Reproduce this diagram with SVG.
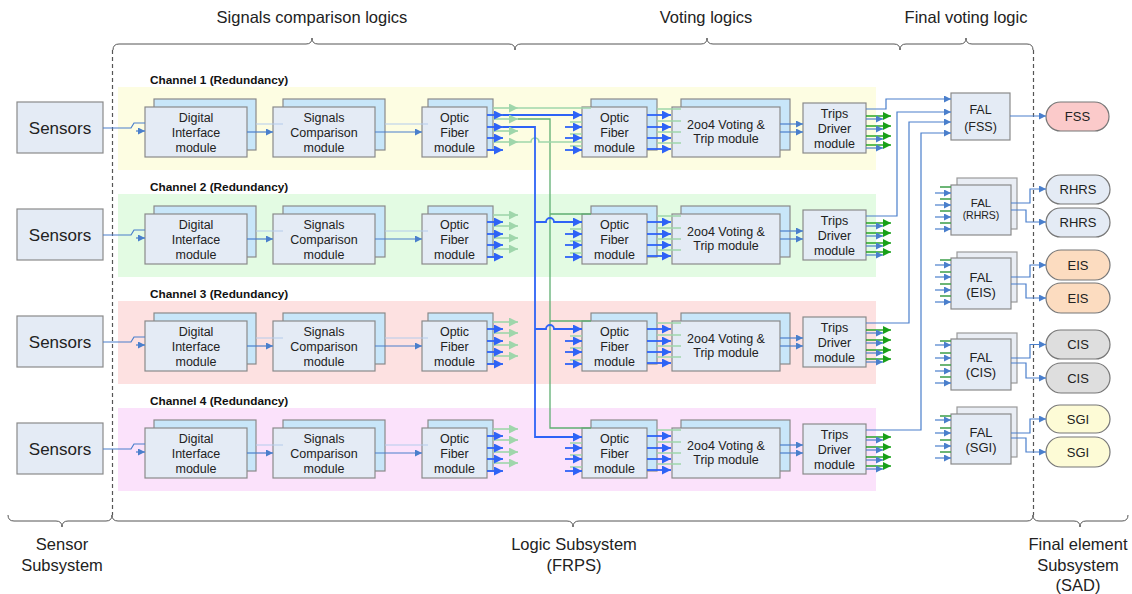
<svg xmlns="http://www.w3.org/2000/svg" width="1132" height="594" viewBox="0 0 1132 594">
<style>
.bg1{fill:#fdfde2}.bg2{fill:#e3fbe3}.bg3{fill:#fde1e1}.bg4{fill:#fbe2fb}
.box{fill:#e4ebf5;stroke:#8a8a8a;stroke-width:1.2}
.back{fill:#c8e6f9;stroke:#8a8a8a;stroke-width:1.2}
.fback{fill:#e9edf4;stroke:#9a9a9a;stroke-width:1.2}
.t{font-family:"Liberation Sans",Arial,sans-serif;font-size:12.5px;fill:#222;text-anchor:middle}
.s{font-size:17px}
.lab{font-family:"Liberation Sans",Arial,sans-serif;font-size:11.8px;font-weight:bold;fill:#111}
.big{font-family:"Liberation Sans",Arial,sans-serif;font-size:16.5px;fill:#222;text-anchor:middle}
.soft{fill:none;stroke:#4a7fcc;stroke-width:1.2}
.viv{fill:none;stroke:#2e63f6;stroke-width:1.8}
.fg{fill:none;stroke:#9fd6ab;stroke-width:1.6}
.gv{fill:none;stroke:#5fae72;stroke-width:1.3}
.dg{fill:none;stroke:#19a019;stroke-width:1.4}
.fb{fill:none;stroke:#b3cbec;stroke-width:1.2}
.dash{fill:none;stroke:#555;stroke-width:1.2;stroke-dasharray:4 3}
.brace{fill:none;stroke:#555;stroke-width:1}
.term{stroke:#777;stroke-width:1.2}
</style>
<defs>
<marker id="aV" viewBox="0 0 10 10" refX="10" refY="5" markerWidth="10" markerHeight="9" markerUnits="userSpaceOnUse" orient="auto"><path d="M0,0L10,5L0,10z" fill="#2e63f6"/></marker>
<marker id="aS" viewBox="0 0 10 10" refX="10" refY="5" markerWidth="8" markerHeight="7" markerUnits="userSpaceOnUse" orient="auto"><path d="M0,0L10,5L0,10z" fill="#4a7fcc"/></marker>
<marker id="aG" viewBox="0 0 10 10" refX="10" refY="5" markerWidth="10" markerHeight="9" markerUnits="userSpaceOnUse" orient="auto"><path d="M0,0L10,5L0,10z" fill="#9fd6ab"/></marker>
<marker id="aD" viewBox="0 0 10 10" refX="10" refY="5" markerWidth="9" markerHeight="8" markerUnits="userSpaceOnUse" orient="auto"><path d="M0,0L10,5L0,10z" fill="#19a019"/></marker>
</defs>

<g id="frame">
<path class="brace" d="M113,50Q113,44 119,44H306Q312,44 312,38Q312,44 318,44H509Q515,44 515,50Q515,44 521,44H701Q707,44 707,38Q707,44 713,44H894Q900,44 900,50Q900,44 906,44H960Q966,44 966,38Q966,44 972,44H1027Q1033,44 1033,50"/>
<path class="brace" d="M8,515Q8,521 14,521H56Q62,521 62,527Q62,521 68,521H106Q112,521 112,515Q112,521 118,521H567Q573,521 573,527Q573,521 579,521H1027Q1033,521 1033,515Q1033,521 1039,521H1074Q1080,521 1080,527Q1080,521 1086,521H1122Q1128,521 1128,515"/>
<path class="dash" d="M112.5,50V515M1033.5,50V515"/>
<text class="big" x="312" y="23">Signals comparison logics</text>
<text class="big" x="706" y="23">Voting logics</text>
<text class="big" x="966" y="23">Final voting logic</text>
<text class="big" x="62" y="550">Sensor</text>
<text class="big" x="62" y="571">Subsystem</text>
<text class="big" x="574" y="550">Logic Subsystem</text>
<text class="big" x="574" y="571">(FRPS)</text>
<text class="big" x="1078" y="550">Final element</text>
<text class="big" x="1078" y="571">Subsystem</text>
<text class="big" x="1078" y="591">(SAD)</text>
</g>

<g id="backgrounds">
<rect class="bg1" x="118" y="87" width="758" height="83"/>
<rect class="bg2" x="118" y="194" width="758" height="83"/>
<rect class="bg3" x="118" y="301" width="758" height="83"/>
<rect class="bg4" x="118" y="408" width="758" height="83"/>
<text class="lab" x="150" y="84">Channel 1 (Redundancy)</text>
<text class="lab" x="150" y="191">Channel 2 (Redundancy)</text>
<text class="lab" x="150" y="298">Channel 3 (Redundancy)</text>
<text class="lab" x="150" y="405">Channel 4 (Redundancy)</text>
</g>

<g id="channel1">
<g id="sensors-1"><rect class="box" x="17" y="102" width="86" height="51"/><text class="t s" x="60" y="134">Sensors</text></g>
<g id="di-1"><rect class="back" x="154" y="99" width="102" height="51"/><rect class="box" x="145" y="107" width="102" height="50"/><text class="t" x="196" y="121.5">Digital</text><text class="t" x="196" y="136.5">Interface</text><text class="t" x="196" y="151.5">module</text></g>
<g id="sc-1"><rect class="back" x="283" y="99" width="102" height="51"/><rect class="box" x="273" y="107" width="102" height="50"/><text class="t" x="324" y="121.5">Signals</text><text class="t" x="324" y="136.5">Comparison</text><text class="t" x="324" y="151.5">module</text></g>
<g id="ofa-1"><rect class="back" x="428" y="99" width="65" height="51"/><rect class="box" x="422" y="107" width="65" height="50"/><text class="t" x="454.5" y="121.5">Optic</text><text class="t" x="454.5" y="136.5">Fiber</text><text class="t" x="454.5" y="151.5">module</text></g>
<g id="ofb-1"><rect class="back" x="591" y="99" width="66" height="51"/><rect class="box" x="582" y="107" width="65" height="50"/><text class="t" x="614.5" y="121.5">Optic</text><text class="t" x="614.5" y="136.5">Fiber</text><text class="t" x="614.5" y="151.5">module</text></g>
<g id="vote-1"><rect class="back" x="681" y="99" width="109" height="51"/><rect class="box" x="672" y="107" width="108" height="50"/><text class="t" x="726" y="128.8">2oo4 Voting &amp;</text><text class="t" x="726" y="142.8">Trip module</text></g>
<g id="td-1"><rect class="box" x="803" y="103" width="63" height="50"/><text class="t" x="834.5" y="117.5">Trips</text><text class="t" x="834.5" y="132.5">Driver</text><text class="t" x="834.5" y="147.5">module</text></g>
</g>

<g id="channel2" transform="translate(0,107)">
<g id="sensors-2"><rect class="box" x="17" y="102" width="86" height="51"/><text class="t s" x="60" y="134">Sensors</text></g>
<g id="di-2"><rect class="back" x="154" y="99" width="102" height="51"/><rect class="box" x="145" y="107" width="102" height="50"/><text class="t" x="196" y="121.5">Digital</text><text class="t" x="196" y="136.5">Interface</text><text class="t" x="196" y="151.5">module</text></g>
<g id="sc-2"><rect class="back" x="283" y="99" width="102" height="51"/><rect class="box" x="273" y="107" width="102" height="50"/><text class="t" x="324" y="121.5">Signals</text><text class="t" x="324" y="136.5">Comparison</text><text class="t" x="324" y="151.5">module</text></g>
<g id="ofa-2"><rect class="back" x="428" y="99" width="65" height="51"/><rect class="box" x="422" y="107" width="65" height="50"/><text class="t" x="454.5" y="121.5">Optic</text><text class="t" x="454.5" y="136.5">Fiber</text><text class="t" x="454.5" y="151.5">module</text></g>
<g id="ofb-2"><rect class="back" x="591" y="99" width="66" height="51"/><rect class="box" x="582" y="107" width="65" height="50"/><text class="t" x="614.5" y="121.5">Optic</text><text class="t" x="614.5" y="136.5">Fiber</text><text class="t" x="614.5" y="151.5">module</text></g>
<g id="vote-2"><rect class="back" x="681" y="99" width="109" height="51"/><rect class="box" x="672" y="107" width="108" height="50"/><text class="t" x="726" y="128.8">2oo4 Voting &amp;</text><text class="t" x="726" y="142.8">Trip module</text></g>
<g id="td-2"><rect class="box" x="803" y="103" width="63" height="50"/><text class="t" x="834.5" y="117.5">Trips</text><text class="t" x="834.5" y="132.5">Driver</text><text class="t" x="834.5" y="147.5">module</text></g>
</g>

<g id="channel3" transform="translate(0,214)">
<g id="sensors-3"><rect class="box" x="17" y="102" width="86" height="51"/><text class="t s" x="60" y="134">Sensors</text></g>
<g id="di-3"><rect class="back" x="154" y="99" width="102" height="51"/><rect class="box" x="145" y="107" width="102" height="50"/><text class="t" x="196" y="121.5">Digital</text><text class="t" x="196" y="136.5">Interface</text><text class="t" x="196" y="151.5">module</text></g>
<g id="sc-3"><rect class="back" x="283" y="99" width="102" height="51"/><rect class="box" x="273" y="107" width="102" height="50"/><text class="t" x="324" y="121.5">Signals</text><text class="t" x="324" y="136.5">Comparison</text><text class="t" x="324" y="151.5">module</text></g>
<g id="ofa-3"><rect class="back" x="428" y="99" width="65" height="51"/><rect class="box" x="422" y="107" width="65" height="50"/><text class="t" x="454.5" y="121.5">Optic</text><text class="t" x="454.5" y="136.5">Fiber</text><text class="t" x="454.5" y="151.5">module</text></g>
<g id="ofb-3"><rect class="back" x="591" y="99" width="66" height="51"/><rect class="box" x="582" y="107" width="65" height="50"/><text class="t" x="614.5" y="121.5">Optic</text><text class="t" x="614.5" y="136.5">Fiber</text><text class="t" x="614.5" y="151.5">module</text></g>
<g id="vote-3"><rect class="back" x="681" y="99" width="109" height="51"/><rect class="box" x="672" y="107" width="108" height="50"/><text class="t" x="726" y="128.8">2oo4 Voting &amp;</text><text class="t" x="726" y="142.8">Trip module</text></g>
<g id="td-3"><rect class="box" x="803" y="103" width="63" height="50"/><text class="t" x="834.5" y="117.5">Trips</text><text class="t" x="834.5" y="132.5">Driver</text><text class="t" x="834.5" y="147.5">module</text></g>
</g>

<g id="channel4" transform="translate(0,321)">
<g id="sensors-4"><rect class="box" x="17" y="102" width="86" height="51"/><text class="t s" x="60" y="134">Sensors</text></g>
<g id="di-4"><rect class="back" x="154" y="99" width="102" height="51"/><rect class="box" x="145" y="107" width="102" height="50"/><text class="t" x="196" y="121.5">Digital</text><text class="t" x="196" y="136.5">Interface</text><text class="t" x="196" y="151.5">module</text></g>
<g id="sc-4"><rect class="back" x="283" y="99" width="102" height="51"/><rect class="box" x="273" y="107" width="102" height="50"/><text class="t" x="324" y="121.5">Signals</text><text class="t" x="324" y="136.5">Comparison</text><text class="t" x="324" y="151.5">module</text></g>
<g id="ofa-4"><rect class="back" x="428" y="99" width="65" height="51"/><rect class="box" x="422" y="107" width="65" height="50"/><text class="t" x="454.5" y="121.5">Optic</text><text class="t" x="454.5" y="136.5">Fiber</text><text class="t" x="454.5" y="151.5">module</text></g>
<g id="ofb-4"><rect class="back" x="591" y="99" width="66" height="51"/><rect class="box" x="582" y="107" width="65" height="50"/><text class="t" x="614.5" y="121.5">Optic</text><text class="t" x="614.5" y="136.5">Fiber</text><text class="t" x="614.5" y="151.5">module</text></g>
<g id="vote-4"><rect class="back" x="681" y="99" width="109" height="51"/><rect class="box" x="672" y="107" width="108" height="50"/><text class="t" x="726" y="128.8">2oo4 Voting &amp;</text><text class="t" x="726" y="142.8">Trip module</text></g>
<g id="td-4"><rect class="box" x="803" y="103" width="63" height="50"/><text class="t" x="834.5" y="117.5">Trips</text><text class="t" x="834.5" y="132.5">Driver</text><text class="t" x="834.5" y="147.5">module</text></g>
</g>

<g id="fal-fss"><rect class="box" x="951" y="93" width="59" height="47"/><text class="t" x="980.5" y="113.5">FAL</text><text class="t" x="980.5" y="130.5">(FSS)</text></g>
<g id="fal-rhrs"><rect class="fback" x="957" y="178" width="60" height="51"/><rect class="box" x="951" y="185" width="60" height="50"/><text class="t" x="981" y="207" style="font-size:11.5px">FAL</text><text class="t" x="981" y="219" style="font-size:10.5px">(RHRS)</text></g>
<g id="fal-eis"><rect class="fback" x="957" y="252" width="60" height="50"/><rect class="box" x="951" y="258" width="60" height="51"/><text class="t" x="981" y="281.5" style="font-size:13px">FAL</text><text class="t" x="981" y="296.5" style="font-size:13px">(EIS)</text></g>
<g id="fal-cis"><rect class="fback" x="957" y="333" width="60" height="50"/><rect class="box" x="951" y="339" width="60" height="51"/><text class="t" x="981" y="362" style="font-size:13px">FAL</text><text class="t" x="981" y="377" style="font-size:13px">(CIS)</text></g>
<g id="fal-sgi"><rect class="fback" x="957" y="407" width="60" height="50"/><rect class="box" x="951" y="414" width="60" height="50"/><text class="t" x="981" y="437" style="font-size:13px">FAL</text><text class="t" x="981" y="452" style="font-size:13px">(SGI)</text></g>

<g id="fss"><rect class="term" x="1046" y="102" width="63" height="29" rx="14.5" fill="#fbcaca"/><text class="t" x="1077.5" y="121" style="font-size:13px">FSS</text></g>
<g id="rhrs-1"><rect class="term" x="1046" y="175" width="64" height="29" rx="14.5" fill="#e4ebf5"/><text class="t" x="1078" y="194" style="font-size:13px">RHRS</text></g>
<g id="rhrs-2"><rect class="term" x="1046" y="208" width="64" height="29" rx="14.5" fill="#e4ebf5"/><text class="t" x="1078" y="227" style="font-size:13px">RHRS</text></g>
<g id="eis-1"><rect class="term" x="1046" y="250" width="64" height="30" rx="15" fill="#fcdcc0"/><text class="t" x="1078" y="269.5" style="font-size:13px">EIS</text></g>
<g id="eis-2"><rect class="term" x="1046" y="283" width="64" height="30" rx="15" fill="#fcdcc0"/><text class="t" x="1078" y="302.5" style="font-size:13px">EIS</text></g>
<g id="cis-1"><rect class="term" x="1046" y="330" width="64" height="29" rx="14.5" fill="#dedede"/><text class="t" x="1078" y="349" style="font-size:13px">CIS</text></g>
<g id="cis-2"><rect class="term" x="1046" y="363" width="64" height="30" rx="15" fill="#dedede"/><text class="t" x="1078" y="382.5" style="font-size:13px">CIS</text></g>
<g id="sgi-1"><rect class="term" x="1046" y="405" width="64" height="28" rx="14" fill="#fdfbd6"/><text class="t" x="1078" y="423.5" style="font-size:13px">SGI</text></g>
<g id="sgi-2"><rect class="term" x="1046" y="437" width="64" height="30" rx="15" fill="#fdfbd6"/><text class="t" x="1078" y="456.5" style="font-size:13px">SGI</text></g>

<g id="connectors">
<g id="conn-ch1">
<path class="soft" d="M103,128H131L134,123H145"/>
<path class="soft" d="M136,131H145" marker-end="url(#aS)"/>
<path class="fb" d="M256,124H283M385,124H428"/>
<path class="soft" d="M247,132H273" marker-end="url(#aS)"/>
<path class="soft" d="M375,132H422" marker-end="url(#aS)"/>
</g>
<g id="conn-ch2" transform="translate(0,107)">
<path class="soft" d="M103,128H131L134,123H145"/>
<path class="soft" d="M136,131H145" marker-end="url(#aS)"/>
<path class="fb" d="M256,124H283M385,124H428"/>
<path class="soft" d="M247,132H273" marker-end="url(#aS)"/>
<path class="soft" d="M375,132H422" marker-end="url(#aS)"/>
</g>
<g id="conn-ch3" transform="translate(0,214)">
<path class="soft" d="M103,128H131L134,123H145"/>
<path class="soft" d="M136,131H145" marker-end="url(#aS)"/>
<path class="fb" d="M256,124H283M385,124H428"/>
<path class="soft" d="M247,132H273" marker-end="url(#aS)"/>
<path class="soft" d="M375,132H422" marker-end="url(#aS)"/>
</g>
<g id="conn-ch4" transform="translate(0,321)">
<path class="soft" d="M103,128H131L134,123H145"/>
<path class="soft" d="M136,131H145" marker-end="url(#aS)"/>
<path class="fb" d="M256,124H283M385,124H428"/>
<path class="soft" d="M247,132H273" marker-end="url(#aS)"/>
<path class="soft" d="M375,132H422" marker-end="url(#aS)"/>
</g>

<g id="cross-links">
<path class="fg" d="M518,108H591"/>
<path class="gv" d="M518,119H550V428H591M550,214H591M550,321H591"/>
<path class="fg" d="M518,142H531A4,4 0 0 1 539,142H582"/>
<path class="viv" d="M503,115H582" marker-end="url(#aV)"/>
<path class="viv" d="M503,127H535V437H582" marker-end="url(#aV)"/>
<path class="viv" d="M535,222H546A4,4 0 0 1 554,222H582" marker-end="url(#aV)"/>
<path class="viv" d="M535,329H546A4,4 0 0 1 554,329H582" marker-end="url(#aV)"/>
</g>

<g id="of-arrows">
<g id="ofa-out">
<path class="fg" d="M493,108H518" marker-end="url(#aG)"/><path class="fg" d="M493,119H518" marker-end="url(#aG)"/><path class="fg" d="M493,131H518" marker-end="url(#aG)"/><path class="fg" d="M493,142H518" marker-end="url(#aG)"/>
<path class="viv" d="M487,115H503" marker-end="url(#aV)"/><path class="viv" d="M487,127H503" marker-end="url(#aV)"/><path class="viv" d="M487,138H503" marker-end="url(#aV)"/><path class="viv" d="M487,150H503" marker-end="url(#aV)"/>
</g>
<g id="ofb-in">
<path class="fg" d="M570,122H582M570,134H582M570,146H582"/>
<path class="viv" d="M565,127H582" marker-end="url(#aV)"/><path class="viv" d="M565,138H582" marker-end="url(#aV)"/><path class="viv" d="M565,150H582" marker-end="url(#aV)"/>
</g>
<g id="ofb-out">
<path class="fg" d="M657,109H681M657,121H681M657,132H681M657,143H681"/>
<path class="viv" d="M647,115H671" marker-end="url(#aV)"/><path class="viv" d="M647,127H671" marker-end="url(#aV)"/><path class="viv" d="M647,138H671" marker-end="url(#aV)"/><path class="viv" d="M647,149H671" marker-end="url(#aV)"/>
</g>
<g id="vote-out">
<path class="soft" d="M780,124H803" marker-end="url(#aS)"/><path class="soft" d="M780,132H803" marker-end="url(#aS)"/>
</g>
<g id="td-out">
<path class="dg" d="M866,116H891" marker-end="url(#aD)"/><path class="dg" d="M866,126H891" marker-end="url(#aD)"/><path class="dg" d="M866,136H891" marker-end="url(#aD)"/><path class="dg" d="M866,145H891" marker-end="url(#aD)"/>
<path class="soft" d="M866,119H883" marker-end="url(#aS)"/><path class="soft" d="M866,129H883" marker-end="url(#aS)"/><path class="soft" d="M866,139H883" marker-end="url(#aS)"/><path class="soft" d="M866,148H883" marker-end="url(#aS)"/>
</g>
</g>
<use href="#of-arrows" transform="translate(0,107)"/>
<use href="#of-arrows" transform="translate(0,214)"/>
<use href="#of-arrows" transform="translate(0,321)"/>

<g id="to-fal-fss">
<path class="soft" d="M866,109H886V99H951" marker-end="url(#aS)"/>
<path class="soft" d="M866,216H897V112H951" marker-end="url(#aS)"/>
<path class="soft" d="M866,323H909V122H951" marker-end="url(#aS)"/>
<path class="soft" d="M866,430H921V133H951" marker-end="url(#aS)"/>
<path class="soft" d="M1010,116H1046" marker-end="url(#aS)"/>
</g>

<g id="fal-in">
<path class="gv" d="M940,187H951M940,199H951M940,211H951M940,223H951" style="stroke:#3d9f4a"/>
<path class="soft" d="M935,193H951" marker-end="url(#aS)"/><path class="soft" d="M935,205H951" marker-end="url(#aS)"/><path class="soft" d="M935,217H951" marker-end="url(#aS)"/><path class="soft" d="M935,229H951" marker-end="url(#aS)"/>
<path class="soft" d="M1011,203H1030V189H1046" marker-end="url(#aS)"/>
<path class="soft" d="M1011,210H1026V222H1046" marker-end="url(#aS)"/>
</g>
<g id="fal-in-eis">
<path class="gv" d="M940,260H951M940,272H951M940,284H951M940,296H951" style="stroke:#3d9f4a"/>
<path class="soft" d="M935,265H951" marker-end="url(#aS)"/><path class="soft" d="M935,277H951" marker-end="url(#aS)"/><path class="soft" d="M935,290H951" marker-end="url(#aS)"/><path class="soft" d="M935,302H951" marker-end="url(#aS)"/>
<path class="soft" d="M1011,277H1030V265H1046" marker-end="url(#aS)"/>
<path class="soft" d="M1011,284H1026V298H1046" marker-end="url(#aS)"/>
</g>
<g id="fal-in-cis">
<path class="gv" d="M940,341H951M940,353H951M940,365H951M940,377H951" style="stroke:#3d9f4a"/>
<path class="soft" d="M935,345H951" marker-end="url(#aS)"/><path class="soft" d="M935,358H951" marker-end="url(#aS)"/><path class="soft" d="M935,371H951" marker-end="url(#aS)"/><path class="soft" d="M935,383H951" marker-end="url(#aS)"/>
<path class="soft" d="M1011,358H1030V344.5H1046" marker-end="url(#aS)"/>
<path class="soft" d="M1011,363H1026V378H1046" marker-end="url(#aS)"/>
</g>
<g id="fal-in-sgi">
<path class="gv" d="M940,416H951M940,428H951M940,440H951M940,452H951" style="stroke:#3d9f4a"/>
<path class="soft" d="M935,420H951" marker-end="url(#aS)"/><path class="soft" d="M935,433H951" marker-end="url(#aS)"/><path class="soft" d="M935,446H951" marker-end="url(#aS)"/><path class="soft" d="M935,458H951" marker-end="url(#aS)"/>
<path class="soft" d="M1011,433H1030V419H1046" marker-end="url(#aS)"/>
<path class="soft" d="M1011,438H1026V452H1046" marker-end="url(#aS)"/>
</g>
</g>
</svg>
